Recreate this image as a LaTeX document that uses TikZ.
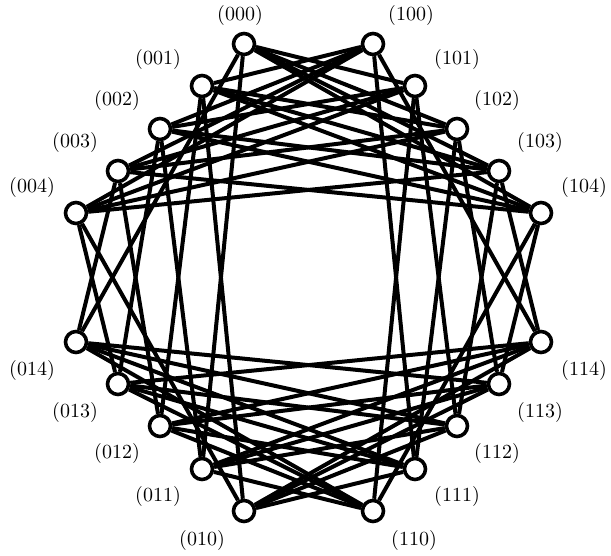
\documentclass[tikz,border=0pt]{standalone}
\usetikzlibrary{backgrounds}

\begin{document}
\begin{tikzpicture}[x=0.5pt,y=-0.5pt,
                    main node/.style={circle,draw,fill=white,line width=1.8pt,minimum size=10.5pt,inner sep=0pt},
                    lbl/.style={font=\normalsize}]
  \useasboundingbox (0,0) rectangle (611,556);

  \node[main node] (000) at (244,44) {};
    \node[main node] (001) at (202,86) {};
  \node[main node] (002) at (160,129) {};
    \node[main node] (003) at (118,171) {};
  \node[main node] (004) at (76,213) {};
  \node[main node] (100) at (373,44) {};
    \node[main node] (101) at (415,86) {};
  \node[main node] (102) at (457,129) {};
    \node[main node] (103) at (499,171) {};
  \node[main node] (104) at (541,213) {};
  \node[main node] (010) at (244,511) {};
    \node[main node] (011) at (202,469) {};
  \node[main node] (012) at (160,426) {};
    \node[main node] (013) at (118,384) {};
  \node[main node] (014) at (76,342) {};
  \node[main node] (110) at (373,511) {};
    \node[main node] (111) at (415,469) {};
  \node[main node] (112) at (457,426) {};
    \node[main node] (113) at (499,384) {};
  \node[main node] (114) at (541,342) {};

  % labels
  \node[lbl] (l000) at (240,16) {(000)};
  \node[lbl] (l001) at (158,60) {(001)};
  \node[lbl] (l002) at (117,101) {(002)};
  \node[lbl] (l003) at (75,143) {(003)};
  \node[lbl] (l004) at (32,187) {(004)};
  \node[lbl] (l100) at (411,16) {(100)};
  \node[lbl] (l101) at (457,60) {(101)};
  \node[lbl] (l102) at (497,101) {(102)};
  \node[lbl] (l103) at (540,143) {(103)};
  \node[lbl] (l104) at (584,187) {(104)};
  \node[lbl] (l014) at (32,370) {(014)};
  \node[lbl] (l013) at (75,412) {(013)};
  \node[lbl] (l012) at (117,453) {(012)};
  \node[lbl] (l011) at (158,496) {(011)};
  \node[lbl] (l010) at (202,540) {(010)};
  \node[lbl] (l114) at (584,370) {(114)};
  \node[lbl] (l113) at (540,412) {(113)};
  \node[lbl] (l112) at (497,453) {(112)};
  \node[lbl] (l111) at (457,496) {(111)};
  \node[lbl] (l110) at (414,540) {(110)};

  \begin{scope}[on background layer]
  \path[line width=2pt,draw]
    (000) edge (101) edge (102) edge (103) edge (104)
          edge (011) edge (014)
    (001) edge (100) edge (102) edge (103) edge (104)
          edge (010) edge (012)
    (002) edge (100) edge (101) edge (103) edge (104)
          edge (011) edge (013)
    (003) edge (100) edge (101) edge (102) edge (104)
          edge (012) edge (014)
    (004) edge (100) edge (101) edge (102) edge (103)
          edge (013) edge (010)
    (100) edge (111) edge (114)
    (101) edge (110) edge (112)
    (102) edge (111) edge (113)
    (103) edge (112) edge (114)
    (104) edge (113) edge (110)
    (010) edge (111) edge (112) edge (113) edge (114)
    (011) edge (110) edge (112) edge (113) edge (114)
    (012) edge (110) edge (111) edge (113) edge (114)
    (013) edge (110) edge (111) edge (112) edge (114)
    (014) edge (110) edge (111) edge (112) edge (113);
  \end{scope}
\end{tikzpicture}
\end{document}
